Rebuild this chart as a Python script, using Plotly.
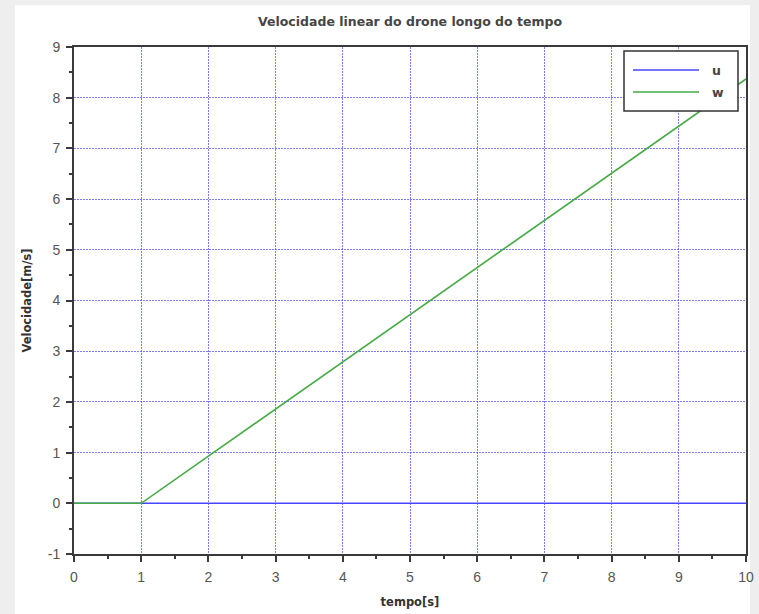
import plotly.graph_objects as go

# Time samples [s] and linear velocity components [m/s]
tempo = [0, 1, 2, 3, 4, 5, 6, 7, 8, 9, 10]
u = [0, 0, 0, 0, 0, 0, 0, 0, 0, 0, 0]
w = [0, 0, 0.93, 1.86, 2.79, 3.72, 4.65, 5.58, 6.51, 7.44, 8.37]

series_names = ["u", "w"]
series_colors = ["#4646ff", "#44aa44"]

x_ticks = list(range(0, 11))
y_ticks = list(range(-1, 10))
x_tick_text = [str(v) for v in x_ticks]
y_tick_text = [str(v) for v in y_ticks]  # plain hyphen for "-1"

W, H = 759, 614
L, R, T, B = 74, 13, 47, 60
PW, PH = W - L - R, H - T - B


def px_x(px):
    return (px - L) / PW


def px_y(py):
    return (H - B - py) / PH


fig = go.Figure()
for name, ys, col in zip(series_names, [u, w], series_colors):
    fig.add_trace(go.Scatter(x=tempo, y=ys, mode="lines", name=name,
                             line=dict(color=col, width=1.6), showlegend=False))

axis_common = dict(
    automargin=False,
    showline=True, mirror=True, linecolor="#3a3a3a", linewidth=2,
    showgrid=True, gridcolor="rgba(80,80,255,0.75)", gridwidth=1, griddash="2px,1px",
    zeroline=False, ticks="outside", ticklen=6, tickwidth=2, tickcolor="#3a3a3a",
    tickfont=dict(family="Liberation Sans, Arial, sans-serif", size=14, color="#555555"),
    minor=dict(ticks="outside", ticklen=3, tickwidth=1.5, tickcolor="#3a3a3a", dtick=0.5, showgrid=False),
)

fig.update_xaxes(range=[0, 10], tickvals=x_ticks, ticktext=x_tick_text, ticklabelstandoff=3,
                 **axis_common,
                 title=dict(text="<b>tempo[s]</b>", standoff=14,
                            font=dict(family="DejaVu Sans, sans-serif", size=11.5, color="#333333")))
fig.update_yaxes(range=[-1, 9], tickvals=y_ticks, ticktext=y_tick_text, ticklabelstandoff=3,
                 **axis_common,
                 title=dict(text="<b>Velocidade[m/s]</b>", standoff=14,
                            font=dict(family="DejaVu Sans, sans-serif", size=11.5, color="#333333")))

shapes = [
    # white canvas panel over the grey window background
    dict(type="rect", xref="paper", yref="paper", layer="below",
         x0=px_x(15), x1=px_x(750), y0=px_y(616), y1=px_y(5),
         fillcolor="white", line=dict(width=0)),
    # legend frame
    dict(type="rect", xref="paper", yref="paper", layer="above",
         x0=px_x(624), x1=px_x(738), y0=px_y(111), y1=px_y(51),
         fillcolor="white", line=dict(color="#333333", width=1.5)),
]
annotations = []
for i, (name, col) in enumerate(zip(series_names, series_colors)):
    ly = 70 + i * 22
    shapes.append(dict(type="line", xref="paper", yref="paper", layer="above",
                       x0=px_x(633), x1=px_x(699), y0=px_y(ly), y1=px_y(ly),
                       line=dict(color=col, width=1.6)))
    annotations.append(dict(xref="paper", yref="paper", x=px_x(710), y=px_y(ly),
                            xanchor="left", yanchor="middle", showarrow=False,
                            text="<b>" + name + "</b>",
                            font=dict(family="DejaVu Sans, sans-serif", size=12.5, color="#444444")))

fig.update_layout(
    width=W, height=H,
    margin=dict(l=L, r=R, t=T, b=B),
    paper_bgcolor="#eeeeee", plot_bgcolor="rgba(0,0,0,0)",
    title=dict(text="<b>Velocidade linear do drone longo do tempo</b>",
               xref="paper", x=px_x(410), xanchor="center",
               yref="container", y=1 - 22 / H, yanchor="middle",
               font=dict(family="DejaVu Sans, sans-serif", size=12.5, color="#454545")),
    shapes=shapes, annotations=annotations,
    showlegend=False,
)

fig.write_html("out.html")
